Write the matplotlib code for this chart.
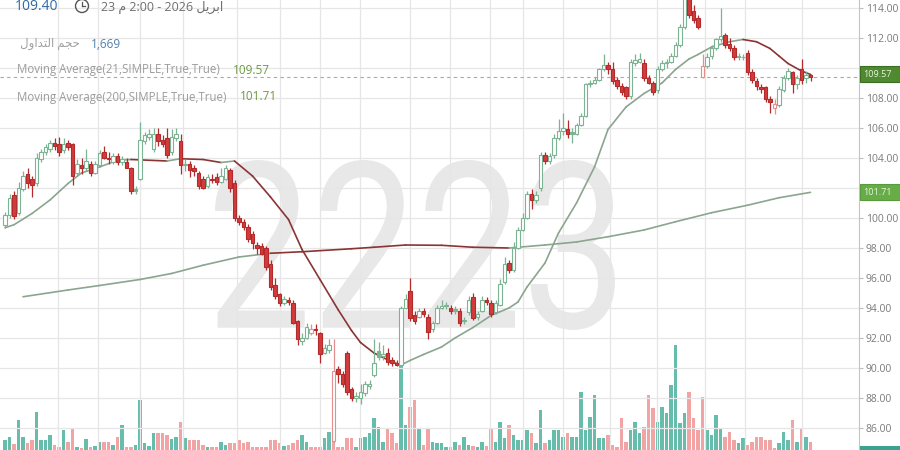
import numpy as np
import matplotlib
matplotlib.use("Agg")
import matplotlib.pyplot as plt
from matplotlib.collections import LineCollection
from matplotlib.patches import Rectangle, Circle, PathPatch
from matplotlib.textpath import TextPath
from matplotlib.font_manager import FontProperties
from matplotlib.transforms import Affine2D
from matplotlib.lines import Line2D

# ---- data (daily candles, oldest first) ----
opens = [
    99.5, 100.2, 101.5, 100.3, 101.9, 102.9, 102.6, 102.3, 103.9, 104.4,
    104.6, 105.0, 104.9, 104.5, 105.0, 104.9, 103.0, 103.5, 103.3, 103.6,
    103.0, 103.5, 104.4, 104.0, 103.7, 104.1, 103.7, 103.7, 103.3, 101.9,
    102.6, 105.1, 105.4, 104.6, 105.6, 105.2, 105.3, 104.4, 105.3, 105.1,
    103.5, 103.6, 103.3, 103.0, 102.6, 102.1, 102.6, 102.7, 102.4, 102.6,
    103.2, 102.3, 100.0, 99.7, 99.4, 98.9, 98.2, 98.1, 98.0, 96.9,
    95.5, 94.9, 94.3, 94.5, 94.3, 93.1, 91.8, 92.0, 92.3, 92.6,
    92.3, 91.0, 91.2, 85.1, 89.9, 89.6, 91.0, 88.6, 88.0, 88.0,
    88.3, 88.8, 89.5, 91.1, 90.8, 91.0, 90.5, 90.3, 90.2, 94.0,
    95.1, 93.5, 93.4, 93.8, 93.4, 92.6, 93.0, 94.0, 94.2, 94.0,
    93.9, 93.8, 93.1, 93.7, 94.7, 93.4, 93.8, 94.5, 94.3, 93.7,
    94.2, 95.7, 97.0, 96.5, 98.0, 99.2, 100.0, 101.6, 101.2, 102.0,
    104.2, 103.8, 104.2, 105.3, 105.8, 105.9, 105.7, 105.6, 106.2, 106.8,
    108.9, 109.0, 109.2, 109.9, 110.2, 109.9, 109.2, 108.8, 108.7, 108.1,
    110.3, 110.4, 110.3, 109.3, 109.0, 108.5, 109.9, 110.3, 110.4, 110.8,
    111.5, 112.7, 115.1, 113.8, 113.3, 109.4, 110.1, 110.8, 111.3, 111.9,
    112.2, 111.6, 111.3, 110.8, 110.7, 111.0, 109.7, 109.1, 108.7, 108.7,
    107.9, 107.3, 107.5, 108.5, 109.3, 109.7, 108.9, 109.9, 109.3, 109.5,
]
highs = [
    100.4, 101.6, 101.8, 102.4, 103.1, 103.3, 102.8, 104.3, 104.6, 104.9,
    105.2, 105.3, 105.4, 105.3, 105.2, 105.0, 103.9, 104.0, 104.6, 103.8,
    103.8, 104.5, 104.8, 104.4, 104.3, 104.3, 104.1, 104.0, 103.4, 102.1,
    106.4, 105.7, 105.9, 106.0, 106.0, 105.5, 106.0, 105.9, 106.0, 105.6,
    103.9, 103.8, 103.5, 103.1, 102.8, 102.9, 102.9, 103.0, 103.3, 103.5,
    103.3, 102.5, 100.2, 99.9, 99.6, 99.1, 98.4, 98.3, 98.1, 97.2,
    96.0, 95.0, 94.8, 94.7, 94.5, 93.2, 92.3, 93.0, 92.9, 92.9,
    92.4, 91.6, 91.9, 91.9, 90.1, 89.8, 91.1, 88.7, 88.4, 88.9,
    89.1, 89.2, 91.9, 91.7, 91.5, 91.3, 90.7, 90.5, 94.1, 94.9,
    96.0, 93.8, 94.0, 94.0, 93.6, 93.1, 94.2, 94.5, 94.4, 94.2,
    94.1, 94.0, 93.4, 94.8, 95.0, 93.8, 94.8, 94.7, 94.5, 94.5,
    95.9, 97.4, 97.2, 98.4, 99.4, 100.3, 101.8, 101.9, 101.8, 104.4,
    104.4, 104.3, 105.6, 106.6, 107.0, 106.5, 106.0, 106.3, 107.0, 109.0,
    109.2, 109.4, 110.0, 110.9, 110.4, 110.4, 109.4, 109.0, 108.8, 110.6,
    110.9, 111.0, 110.6, 109.5, 109.1, 110.1, 110.5, 110.6, 111.0, 111.7,
    112.9, 115.2, 115.4, 114.2, 113.5, 110.9, 111.0, 111.5, 112.0, 114.0,
    112.3, 112.0, 111.5, 111.0, 110.9, 111.2, 109.9, 109.3, 108.9, 108.8,
    108.1, 107.9, 108.8, 109.5, 110.0, 109.8, 109.5, 110.6, 109.8, 109.6,
]
lows = [
    99.3, 100.0, 99.9, 100.2, 101.8, 102.0, 101.4, 102.1, 103.7, 104.2,
    104.4, 104.5, 104.1, 104.3, 104.5, 102.2, 102.8, 102.9, 103.1, 102.8,
    102.9, 103.4, 103.9, 103.6, 103.6, 103.5, 103.5, 103.3, 101.6, 101.6,
    102.5, 104.9, 105.2, 104.4, 104.8, 104.7, 104.0, 104.2, 105.1, 102.9,
    103.1, 102.7, 102.8, 101.9, 101.9, 102.0, 102.3, 102.2, 102.3, 102.5,
    101.7, 99.8, 99.5, 99.2, 98.4, 97.9, 97.6, 97.5, 96.5, 95.2,
    94.6, 94.1, 94.2, 94.2, 92.9, 91.5, 91.5, 91.9, 92.2, 92.2,
    90.3, 90.9, 91.0, 85.0, 89.0, 88.7, 88.2, 87.8, 87.7, 87.6,
    88.1, 88.6, 89.4, 90.5, 90.5, 90.2, 90.1, 90.1, 90.1, 93.9,
    93.1, 92.9, 93.3, 93.4, 91.9, 92.4, 92.9, 93.9, 93.9, 93.6,
    93.6, 92.8, 92.9, 93.5, 93.2, 93.2, 93.7, 94.2, 93.4, 93.6,
    94.1, 95.6, 96.3, 96.4, 97.9, 99.1, 99.9, 100.6, 101.0, 101.8,
    103.6, 103.6, 104.0, 105.2, 105.5, 105.3, 105.0, 105.5, 106.1, 106.7,
    108.7, 108.9, 109.1, 109.8, 109.6, 108.9, 108.6, 108.2, 107.9, 107.9,
    110.1, 110.3, 109.1, 108.9, 108.2, 108.3, 109.8, 110.0, 110.3, 110.7,
    111.4, 112.6, 113.3, 113.0, 112.6, 109.3, 110.0, 110.6, 111.2, 111.7,
    111.3, 111.1, 110.5, 110.5, 110.5, 109.5, 109.0, 108.5, 108.3, 107.7,
    107.0, 106.9, 107.4, 108.4, 109.2, 108.3, 108.6, 108.9, 109.0, 109.1,
]
closes = [
    100.2, 101.3, 100.1, 102.0, 102.8, 102.3, 102.2, 104.0, 104.4, 104.7,
    105.0, 104.8, 104.4, 104.9, 104.7, 102.8, 103.6, 103.3, 103.8, 103.0,
    103.6, 104.3, 104.0, 103.9, 104.1, 103.7, 103.9, 103.3, 101.8, 101.8,
    105.2, 105.5, 105.6, 105.6, 105.1, 104.9, 104.2, 105.4, 105.6, 103.5,
    103.6, 103.2, 103.1, 102.1, 102.0, 102.7, 102.5, 102.4, 102.8, 103.3,
    102.0, 100.0, 99.7, 99.4, 98.6, 98.3, 98.0, 97.6, 96.7, 95.4,
    94.8, 94.3, 94.6, 94.4, 93.0, 91.9, 92.0, 92.7, 92.6, 92.5,
    90.9, 91.3, 91.5, 89.8, 89.6, 88.9, 88.4, 88.0, 88.1, 88.4,
    88.9, 88.9, 90.3, 90.7, 90.9, 90.4, 90.3, 90.2, 94.0, 94.6,
    93.3, 93.1, 93.8, 93.6, 92.4, 93.0, 94.0, 94.1, 94.1, 93.8,
    93.8, 93.0, 93.2, 94.5, 93.3, 93.6, 94.5, 94.4, 93.6, 94.3,
    95.6, 96.9, 96.5, 98.0, 99.2, 100.0, 101.6, 101.2, 101.5, 104.2,
    103.8, 104.1, 105.3, 105.8, 106.0, 105.6, 105.6, 106.2, 106.8, 108.9,
    109.0, 109.2, 109.9, 110.2, 109.9, 109.1, 108.8, 108.4, 108.1, 110.4,
    110.5, 110.6, 109.3, 109.0, 108.4, 109.9, 110.3, 110.4, 110.8, 111.5,
    112.7, 114.8, 113.5, 113.2, 112.7, 110.1, 110.7, 111.3, 111.9, 112.1,
    111.5, 111.3, 110.7, 110.7, 110.7, 109.7, 109.2, 108.8, 108.6, 107.9,
    107.7, 107.6, 108.6, 109.3, 109.8, 108.9, 109.3, 109.2, 109.5, 109.4,
]
volumes = [
    10, 13, 6, 30, 13, 7, 10, 38, 10, 10,
    15, 5, 3, 20, 8, 22, 3, 2, 11, 3,
    4, 8, 8, 8, 5, 13, 25, 3, 3, 5,
    50, 7, 4, 17, 17, 17, 15, 11, 13, 28,
    12, 10, 10, 10, 5, 3, 3, 3, 8, 5,
    7, 7, 10, 7, 8, 3, 3, 3, 3, 10,
    10, 7, 4, 5, 7, 10, 15, 8, 3, 3,
    3, 12, 18, 18, 3, 3, 12, 12, 3, 12,
    13, 17, 32, 23, 8, 22, 17, 7, 90, 25,
    43, 50, 22, 5, 22, 8, 7, 7, 3, 3,
    8, 5, 13, 5, 4, 3, 8, 4, 22, 8,
    28, 12, 25, 15, 10, 10, 20, 17, 7, 40,
    7, 10, 20, 20, 13, 17, 13, 13, 58, 20,
    33, 55, 12, 12, 15, 5, 3, 32, 8, 20,
    28, 17, 23, 55, 42, 28, 43, 37, 65, 105,
    27, 37, 58, 32, 20, 53, 20, 15, 35, 22,
    13, 18, 10, 7, 12, 5, 8, 13, 13, 10,
    10, 2, 7, 18, 10, 30, 8, 22, 13, 8,
]

# moving averages, sampled at candle positions
ma21_idx = [0, 2, 6, 10, 14, 17, 21, 25, 28, 36, 39, 44, 48, 51, 55, 59, 63, 66,
            70, 74, 77, 79, 82, 86, 88, 90, 93, 97, 100, 104, 108, 112, 114, 116,
            120, 123, 127, 131, 134, 138, 142, 146, 149, 152, 154, 157, 161, 164,
            167, 170, 172, 174, 177, 179]
ma21_val = [99.35, 99.55, 100.3, 101.2, 102.3, 103.0, 103.4, 103.85, 103.9, 103.8,
            103.95, 103.9, 103.7, 103.8, 102.8, 101.4, 99.9, 97.9, 95.9, 93.9,
            92.5, 91.7, 91.0, 90.4, 90.2, 90.5, 90.9, 91.4, 92.0, 92.7, 93.5,
            94.0, 94.4, 95.4, 97.0, 99.0, 101.0, 103.4, 105.9, 107.4, 108.3,
            109.0, 109.9, 110.6, 110.9, 111.4, 111.75, 111.9, 111.75, 111.3,
            110.8, 110.3, 109.8, 109.57]
ma200_idx = [4, 14, 21, 30, 37, 44, 52, 59, 66, 77, 82, 89, 97, 104, 112, 120,
             127, 134, 142, 149, 157, 165, 172, 179]
ma200_val = [94.75, 95.2, 95.5, 95.9, 96.3, 96.85, 97.4, 97.65, 97.75, 97.95,
             98.05, 98.2, 98.18, 98.05, 98.0, 98.2, 98.4, 98.75, 99.2, 99.75,
             100.35, 100.85, 101.35, 101.71]

last_price = 109.40
price_ticks = list(range(86, 115, 2))
grid_idx = [11.8, 20.7, 30, 39.6, 51.6, 61.1, 70, 78.9, 90, 98.9, 107.8,
            115.1, 124, 134.4, 144.9, 155.6, 164.4, 177.1]

W, H = 900, 450
RED, RED_EDGE, GREEN = '#d23b3b', '#b42a2a', '#7bb393'
TEAL_V, PINK_V = '#67bdac', '#f2a4a4'
MA_UP, MA_DOWN = '#8ba58f', '#8a3434'
TXT_FONT = ['Open Sans', 'DejaVu Sans']

fig = plt.figure(figsize=(W / 100, H / 100), dpi=100)
rect = [0, 0, 859 / W, 1]
xlim = (-5 / 4.5, (859 - 5) / 4.5)

idx = np.arange(len(closes))
o, hi, lo, c = map(np.array, (opens, highs, lows, closes))
prev = np.concatenate([[o[0]], c[:-1]])
rising = c >= prev

# volume panel (behind)
vax = fig.add_axes(rect, zorder=0)
vax.bar(idx, volumes, width=0.72, color=np.where(rising, TEAL_V, PINK_V), linewidth=0)
vax.set_xlim(*xlim)
vax.set_ylim(0, 450)
vax.axis('off')

# watermark
tp = TextPath((0, 0), "2223", size=100, prop=FontProperties(family='Roboto', weight='normal'))
ext = tp.get_extents()
fx0, fx1 = 215 / W, 615 / W
fy0, fy1 = 1 - 330 / H, 1 - 160 / H
aff = (Affine2D().translate(-ext.x0, -ext.y0)
       .scale((fx1 - fx0) / ext.width, (fy1 - fy0) / ext.height)
       .translate(fx0, fy0))
fig.add_artist(PathPatch(tp, transform=aff + fig.transFigure, fc='#e8e8e8', ec='none', zorder=0.5))

# price panel
ax = fig.add_axes(rect, zorder=1)
ax.patch.set_alpha(0)
ax.set_xlim(*xlim)
ax.set_ylim(84.533, 114.533)

for t in price_ticks:
    ax.axhline(t, color='#e6e6e6', lw=0.9, zorder=0)
for g in grid_idx:
    ax.axvline(g, color='#e6e6e6', lw=0.9, zorder=0)

ax.axhline(last_price, color='#a8a8a8', lw=0.8, ls=(0, (3, 3)), zorder=1)

# moving averages coloured by slope
def slope_line(xs, ys, thr):
    pts = np.column_stack([xs, ys]).astype(float)
    segs = np.stack([pts[:-1], pts[1:]], axis=1)
    sl = np.diff(pts[:, 1]) / np.diff(pts[:, 0])
    cols = [MA_UP if s > thr else MA_DOWN for s in sl]
    ax.add_collection(LineCollection(segs, colors=cols, linewidths=1.2, zorder=2, capstyle='round'))

slope_line(ma200_idx, ma200_val, 0.025)
slope_line(ma21_idx, ma21_val, 0.0)

# candles (hollow style: filled when close < open, red when close < previous close)
edge = np.where(rising, GREEN, RED)
edge = np.where(~rising & (c >= o), '#e48f8f', edge)
face = np.where(c < o, np.where(rising, GREEN, RED), 'white')
edge = np.where((c < o) & ~rising, RED_EDGE, edge)
ax.vlines(idx, lo, hi, colors=edge, lw=0.9, zorder=3)
body = np.maximum(np.abs(c - o), 0.06)
ax.bar(idx, body, bottom=np.minimum(o, c), width=0.72, color=face,
       edgecolor=edge, linewidth=0.8, zorder=4)

# right price scale (labels under the value boxes are hidden, as on the chart)
hidden = [round(ma21_val[-1] / 2) * 2, round(ma200_val[-1] / 2) * 2]
ax.yaxis.tick_right()
ax.set_yticks(price_ticks)
ax.set_yticklabels(["" if t in hidden else f"{t:.2f}" for t in price_ticks])
ax.tick_params(axis='y', colors='#bdbdbd', labelcolor='#7a7a7a', labelsize=7.5,
               length=3, pad=2)
for lab in ax.get_yticklabels():
    lab.set_fontfamily(TXT_FONT)
ax.set_xticks([])
for s in ('left', 'top', 'bottom'):
    ax.spines[s].set_visible(False)
ax.spines['right'].set_color('#c4c4c4')

# value boxes on the scale
def value_box(val, fc, ec):
    yc = 8 + (114 - val) * 15
    fig.add_artist(Rectangle((860 / W, 1 - (yc + 8) / H), 40 / W, 16 / H,
                             transform=fig.transFigure, fc=fc, ec=ec, lw=0.8, zorder=5))
    fig.text(863 / W, 1 - yc / H, f"{val:.2f}", color='#eaf6e2', fontsize=6.5,
             va='center', ha='left', family=TXT_FONT, zorder=6)

value_box(ma21_val[-1], '#4f8a30', '#3c6e22')
value_box(ma200_val[-1], '#66ad47', '#5a9a3e')
fig.add_artist(Rectangle((860 / W, 0), 40 / W, 4 / H, transform=fig.transFigure,
                         fc='#3aa38f', ec='none', zorder=5))

# header texts
def ftext(x, y, s, **kw):
    fig.text(x / W, 1 - y / H, s, va='center', ha='left', family=TXT_FONT, zorder=7, **kw)

ftext(15, 7, f"{last_price:.2f}", color='#2d6aa6', fontsize=10)
clock = Circle((0.82, 4.44), 0.065, transform=fig.dpi_scale_trans, fill=False,
               ec='#555555', lw=1.0, zorder=7)
fig.add_artist(clock)
fig.add_artist(Line2D([0.82, 0.82], [4.44, 4.48], transform=fig.dpi_scale_trans, color='#555', lw=0.9, zorder=7))
fig.add_artist(Line2D([0.82, 0.85], [4.44, 4.44], transform=fig.dpi_scale_trans, color='#555', lw=0.9, zorder=7))
ftext(101, 7, "23 ﻡ 2:00 - 2026 ﻞﻳﺮﺑﺍ", color='#6f6f6f', fontsize=9)
ftext(20, 44, "ﻝﻭﺍﺪﺘﻟﺍ ﻢﺠﺣ", color='#a0a0a0', fontsize=8.5)
ftext(91, 44, "1,669", color='#4f80b2', fontsize=8.5)
ftext(17, 70, "Moving Average(21,SIMPLE,True,True)", color='#9c9c9c', fontsize=8.3)
ftext(233, 70, f"{ma21_val[-1]:.2f}", color='#6e9a3e', fontsize=8.5)
ftext(17, 97, "Moving Average(200,SIMPLE,True,True)", color='#9c9c9c', fontsize=8.3)
ftext(240, 97, f"{ma200_val[-1]:.2f}", color='#6e9a3e', fontsize=8.5)

fig.savefig("out.png", dpi=100)
